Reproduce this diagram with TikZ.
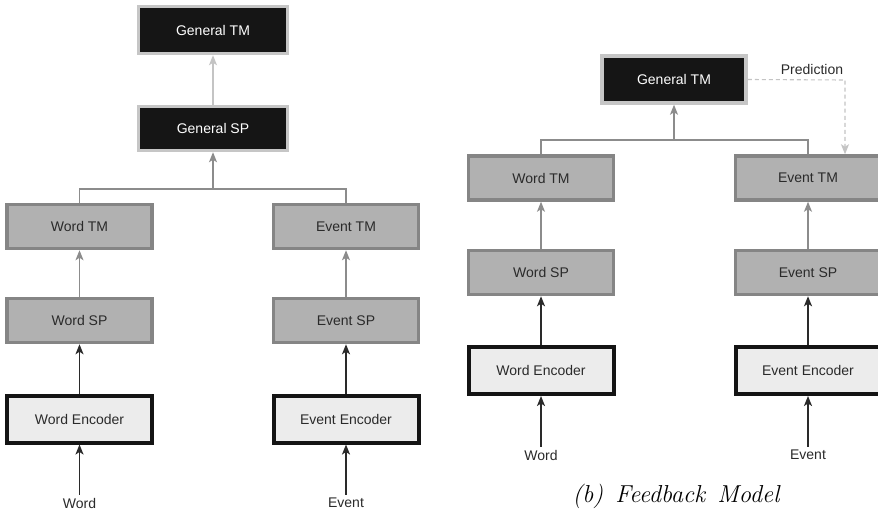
\documentclass[tikz,border=0pt]{standalone}
\usepackage{fontspec}
\usetikzlibrary{arrows.meta}
\newfontfamily\labelfont{Liberation Sans}
\definecolor{genfill}{HTML}{151515}
\definecolor{genedge}{HTML}{C6C6C6}
\definecolor{midfill}{HTML}{B1B1B1}
\definecolor{midedge}{HTML}{858585}
\definecolor{encfill}{HTML}{ECECEC}
\definecolor{encedge}{HTML}{141414}
\definecolor{linkgray}{HTML}{8C8C8C}
\definecolor{softgray}{HTML}{C4C4C4}
\definecolor{inkdark}{HTML}{2A2A2A}
\tikzset{
  box/.style={rectangle, line width=3.5pt, minimum width=145pt, font=\labelfont\fontsize{14}{16}\selectfont, inner sep=0pt},
  genbox/.style={box, draw=genedge, fill=genfill, text=white, minimum width=149pt},
  midbox/.style={box, draw=midedge, fill=midfill, text=inkdark, minimum height=44pt},
  encbox/.style={box, draw=encedge, fill=encfill, text=inkdark, line width=4pt, minimum height=47pt},
  inlabel/.style={font=\labelfont\fontsize{14}{16}\selectfont, text=inkdark, inner sep=1pt},
  tip/.style={-{Stealth[length=10pt,width=8pt,inset=2.5pt]}},
  uparrow/.style={tip, draw=linkgray, line width=1.2pt},
  softarrow/.style={tip, draw=softgray, line width=1.2pt},
  darkarrow/.style={tip, draw=inkdark, line width=1.6pt},
  branch/.style={draw=linkgray, line width=1.1pt},
  predline/.style={tip, draw=softgray, line width=1.1pt, dash pattern=on 4pt off 3pt},
}
\begin{document}
\begin{tikzpicture}[x=1pt,y=-1pt]
\useasboundingbox (0,0) rectangle (878,514);
\clip (0,0) rectangle (878,514);
\fill[white] (0,0) rectangle (878,514);

% ---------- layered model ----------
\node[genbox, minimum height=47pt] (lgtm) at (213,30) {General TM};
\node[genbox, minimum height=44pt] (lgsp) at (213,128.5) {General SP};
\node[midbox] (lwtm) at (79.5,226.5) {Word TM};
\node[midbox] (letm) at (346,226.5) {Event TM};
\node[midbox] (lwsp) at (79.5,320.5) {Word SP};
\node[midbox] (lesp) at (346,320.5) {Event SP};
\node[encbox] (lwenc) at (79.5,419) {Word Encoder};
\node[encbox] (leenc) at (346,419) {Event Encoder};
\node[inlabel] (lword) at (79.5,503) {Word};
\node[inlabel] (levent) at (346,503) {Event};
\coordinate (ljoin) at (213,189);

\draw[softarrow] (lgsp) -- (lgtm);
\draw[branch] (lwtm.north) |- (ljoin) -| (letm.north);
\draw[uparrow] (ljoin) -- (lgsp);
\draw[uparrow] (lwsp) -- (lwtm);
\draw[uparrow] (lesp) -- (letm);
\draw[darkarrow] (lwenc) -- (lwsp);
\draw[darkarrow] (leenc) -- (lesp);
\draw[darkarrow] (lword.north) ++(0,-2) -- (lwenc.south);
\draw[darkarrow] (levent.north) ++(0,-2) -- (leenc.south);

% ---------- feedback model ----------
\node[genbox, minimum height=47pt, minimum width=144pt] (rgtm) at (674,79.5) {General TM};
\node[midbox] (rwtm) at (541,178) {Word TM};
\node[midbox] (retm) at (808,178) {Event TM};
\node[midbox] (rwsp) at (541,272.5) {Word SP};
\node[midbox] (resp) at (808,272.5) {Event SP};
\node[encbox] (rwenc) at (541,370.5) {Word Encoder};
\node[encbox] (reenc) at (808,370.5) {Event Encoder};
\node[inlabel] (rword) at (541,455) {Word};
\node[inlabel] (revent) at (808,455) {Event};
\node[inlabel] (pred) at (812,69) {Prediction};
\coordinate (rjoin) at (674,140);
\coordinate (pcorner) at (845,80);

\draw[branch] (rwtm.north) |- (rjoin) -| (retm.north);
\draw[uparrow] (rjoin) -- (rgtm);
\draw[uparrow] (rwsp) -- (rwtm);
\draw[uparrow] (resp) -- (retm);
\draw[darkarrow] (rwenc) -- (rwsp);
\draw[darkarrow] (reenc) -- (resp);
\draw[darkarrow] (rword.north) ++(0,-2) -- (rwenc.south);
\draw[darkarrow] (revent.north) ++(0,-2) -- (reenc.south);
\draw[predline] (rgtm.east) -- (pcorner) -- (pcorner |- retm.north);

\node[font=\fontsize{24.5}{28}\selectfont\itshape, inner sep=0pt] (caption) at (676,496) {(b)\hspace{0.15em} Feedback\hspace{0.15em} Model};
\end{tikzpicture}
\end{document}
